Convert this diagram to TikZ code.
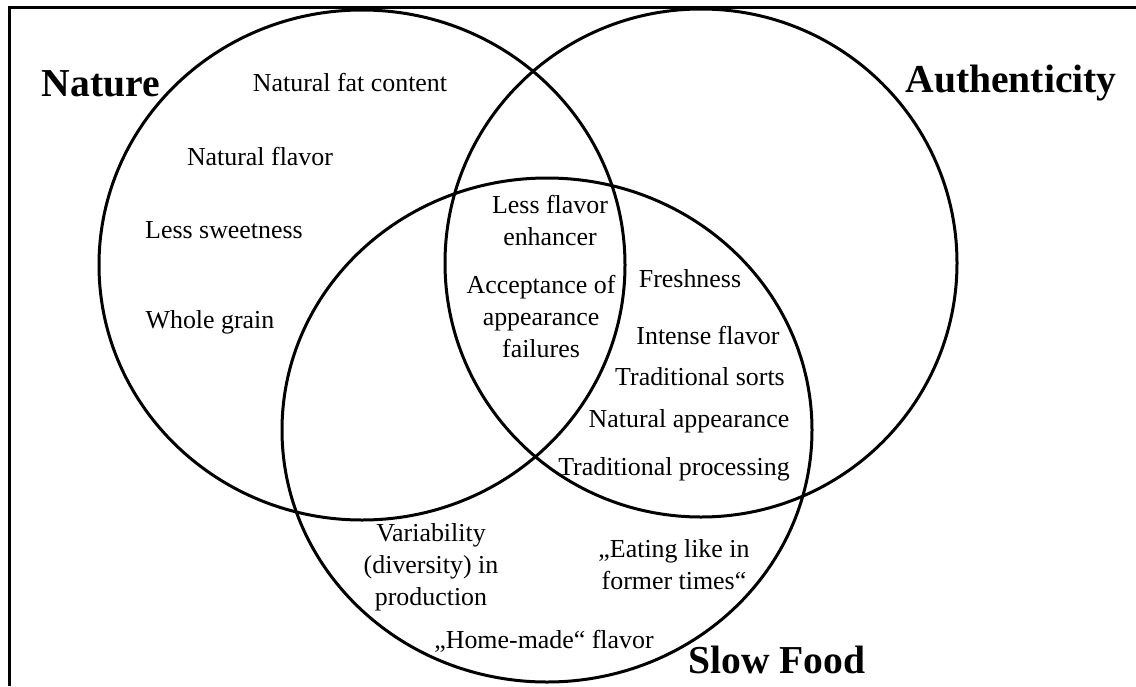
\documentclass[tikz,border=0pt]{standalone}
\usepackage{fontspec}
\setmainfont{Liberation Serif}
\usetikzlibrary{shapes.geometric}
\begin{document}
\begin{tikzpicture}[x=0.5pt, y=-0.5pt,
  ring/.style={draw, ellipse, line width=1.5pt, inner sep=0pt},
  term/.style={font=\fontsize{12.95}{15.8}\selectfont, inner sep=0pt, align=center, anchor=base},
  setname/.style={font=\fontsize{19.8}{24}\selectfont\bfseries, inner sep=0pt, anchor=base},
  frameline/.style={line width=1.5pt}]
\useasboundingbox (0,0) rectangle (1136,686);

% open frame: top and left edges only
\coordinate (fbl) at (9,686);
\coordinate (ftl) at (9,7);
\coordinate (ftr) at (1136,7);
\draw[frameline] (fbl) -- (ftl) -- (ftr);

% the three sets
\node[ring, minimum width=263pt, minimum height=255pt] (nature) at (362,265) {};
\node[ring, minimum width=256pt, minimum height=254pt] (authenticity) at (701,263) {};
\node[ring, minimum width=265pt, minimum height=252pt] (slowfood) at (547,430) {};

% set names
\node[setname] (lnature) at (101,96) {Nature};
\node[setname, anchor=base east] (lauth) at (1117,92) {Authenticity};
\node[setname, anchor=base west] (lslow) at (688,673) {Slow Food};

% Nature only
\node[term] (fat) at (350,91) {Natural fat content};
\node[term] (natflavor) at (260,165) {Natural flavor};
\node[term] (sweet) at (224,238) {Less sweetness};
\node[term] (grain) at (210,328) {Whole grain};

% Nature and Authenticity (multi-line nodes sit on their last baseline)
\node[term] (enhancer) at (550,245) {Less flavor\\enhancer};
\node[term] (failures) at (541,357) {Acceptance of\\appearance\\failures};

% Authenticity and Slow Food
\node[term] (fresh) at (690,287) {Freshness};
\node[term] (intense) at (708,344) {Intense flavor};
\node[term] (sorts) at (700,385) {Traditional sorts};
\node[term] (appear) at (689,427) {Natural appearance};
\node[term] (process) at (674,475) {Traditional processing};

% Slow Food only
\node[term] (variab) at (431,605) {Variability\\(diversity) in\\production};
\node[term] (former) at (674,589) {„Eating like in\\former times“};
\node[term] (home) at (544,648) {„Home-made“ flavor};
\end{tikzpicture}
\end{document}
